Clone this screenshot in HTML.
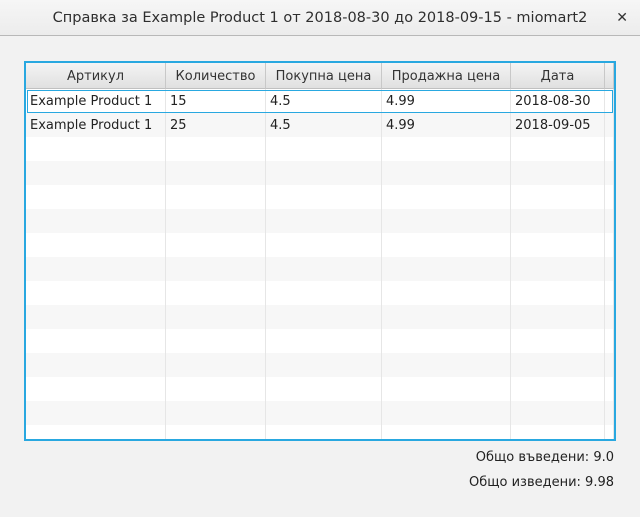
<!DOCTYPE html>
<html><head><meta charset="utf-8">
<style>
*{box-sizing:border-box;margin:0;padding:0}
body{width:640px;height:517px;background:#f2f2f2;font-family:"DejaVu Sans","Liberation Sans",sans-serif;font-size:13px;color:#222;position:relative;overflow:hidden}
#titlebar{position:absolute;left:0;top:0;width:640px;height:36px;background:linear-gradient(#f6f6f6,#ececec);border-bottom:1px solid #b8b8b8;text-align:center;line-height:36px;font-size:14.5px;font-weight:500;color:#2e2e2e}
#close{position:absolute;right:12px;top:0;font-size:14px;color:#333}
#table{position:absolute;left:24px;top:61px;width:592px;height:380px;border:2px solid #29a8e0;background:#fff;overflow:hidden}
.hdr{position:absolute;top:0;height:26px;background:linear-gradient(#f4f4f4,#e0e0e0);border-right:1px solid #c8c8c8;border-bottom:1px solid #c0c0c0;text-align:center;line-height:28px;color:#333}
.row{position:absolute;left:0;width:588px;height:24px}
.cell{position:absolute;top:0;height:24px;border-right:1px solid #e6e6e6;line-height:25px;padding-left:4px;color:#222}
.sel{position:absolute;left:1px;top:27px;width:586px;height:23px;border:1px solid #29a8e0}
.tot{position:absolute;right:26px;font-size:13px;color:#222}
</style></head><body>
<div id="titlebar">Справка за Example Product 1 от 2018-08-30 до 2018-09-15 - miomart2<span id="close">✕</span></div>
<div id="table"></div>
<div class="tot" style="top:450px">Общо въведени: 9.0</div>
<div class="tot" style="top:475px">Общо изведени: 9.98</div>
<script>
const headers=["Артикул","Количество","Покупна цена","Продажна цена","Дата",""];
const colW=[140,100,116,129,94,9];
const rows=[["Example Product 1","15","4.5","4.99","2018-08-30"],["Example Product 1","25","4.5","4.99","2018-09-05"]];
const t=document.getElementById('table');
let x=0;
headers.forEach((h,i)=>{
  const d=document.createElement('div');d.className='hdr';
  
  
  d.style.left=x+'px';d.style.width=colW[i]+'px';d.textContent=h;t.appendChild(d);x+=colW[i];
});
for(let r=0;r<15;r++){
  const row=document.createElement('div');row.className='row';
  
  
  row.style.top=(26+r*24)+'px';row.style.background=r%2?'#f7f7f7':'#fff';
  let cx=0;
  colW.forEach((w,i)=>{
    const c=document.createElement('div');c.className='cell';
    
    
    c.style.left=cx+'px';c.style.width=w+'px';
    if(rows[r]&&i<5)c.textContent=rows[r][i];
    row.appendChild(c);cx+=w;
  });
  t.appendChild(row);
}
const s=document.createElement('div');s.className='sel';


t.appendChild(s);
</script>
</body></html>
